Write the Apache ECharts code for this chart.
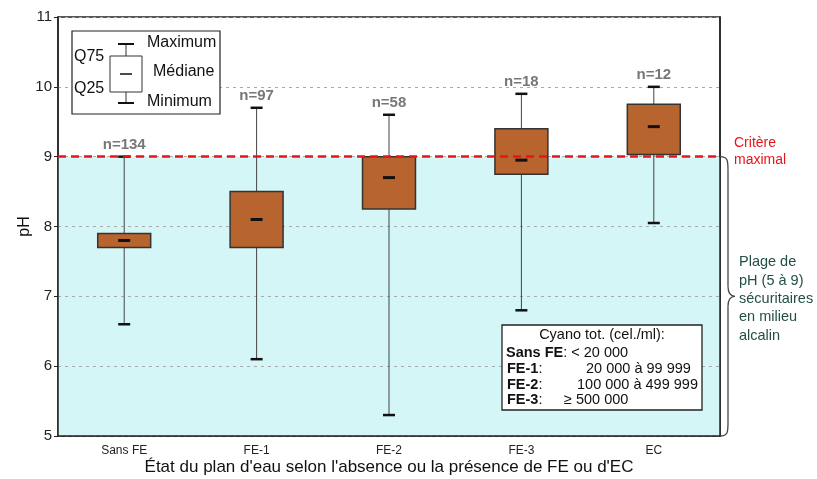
<!DOCTYPE html>
<html><head><meta charset="utf-8">
<script src="https://cdn.jsdelivr.net/npm/echarts@6/dist/echarts.min.js"></script>
<style>html,body{margin:0;padding:0;background:#fff}#c{width:817px;height:479px}</style>
</head><body><div id="c"></div>
<script>
const categories = ['Sans FE', 'FE-1', 'FE-2', 'FE-3', 'EC'];
const minVals    = [6.6, 6.1, 5.3, 6.8, 8.05];
const q25Vals    = [7.7, 7.7, 8.25, 8.75, 9.03];
const medianVals = [7.8, 8.1, 8.7, 8.95, 9.43];
const q75Vals    = [7.9, 8.5, 9.0, 9.4, 9.75];
const maxVals    = [9.0, 9.7, 9.6, 9.9, 10.0];
const nLabels    = ['n=134', 'n=97', 'n=58', 'n=18', 'n=12'];
const criterionMax = 9;
const safeRange = [5, 9];
const yMin = 5, yMax = 11, yStep = 1;

const FONT = '"Liberation Sans", Arial, sans-serif';
const rows = categories.map((c, i) => [i, minVals[i], q25Vals[i], medianVals[i], q75Vals[i], maxVals[i], nLabels[i]]);

const chart = echarts.init(document.getElementById('c'), null, {renderer: 'canvas'});

function renderBox(params, api) {
  const x = api.value(0);
  const pMin = api.coord([x, api.value(1)]);
  const pQ1 = api.coord([x, api.value(2)]);
  const pMed = api.coord([x, api.value(3)]);
  const pQ3 = api.coord([x, api.value(4)]);
  const pMax = api.coord([x, api.value(5)]);
  const bw = api.size([1, 0])[0] * 0.4;
  const cx = pMin[0];
  const cap = 6;
  return {
    type: 'group',
    children: [
      {type: 'line', shape: {x1: cx, y1: pMax[1], x2: cx, y2: pMin[1]}, style: {stroke: '#444', lineWidth: 1}},
      {type: 'line', shape: {x1: cx - cap, y1: pMax[1], x2: cx + cap, y2: pMax[1]}, style: {stroke: '#111', lineWidth: 2.5}},
      {type: 'line', shape: {x1: cx - cap, y1: pMin[1], x2: cx + cap, y2: pMin[1]}, style: {stroke: '#111', lineWidth: 2.5}},
      {type: 'rect', shape: {x: cx - bw / 2, y: pQ3[1], width: bw, height: pQ1[1] - pQ3[1]}, style: {fill: '#B8642E', stroke: '#333', lineWidth: 1.5}},
      {type: 'line', shape: {x1: cx - 6, y1: pMed[1], x2: cx + 6, y2: pMed[1]}, style: {stroke: '#111', lineWidth: 3}},
      {type: 'text', style: {text: api.value(6), x: cx, y: pMax[1] - 4, align: 'center', verticalAlign: 'bottom', font: 'bold 15px ' + FONT, fill: '#777'}}
    ]
  };
}

chart.setOption({
  animation: false,
  grid: {left: 58, right: 97, top: 17, bottom: 43, outerBoundsMode: 'none', containLabel: false, show: true, borderColor: '#222', borderWidth: 1.5, backgroundColor: '#fff'},
  xAxis: {
    type: 'category', data: categories, boundaryGap: true,
    axisLine: {lineStyle: {color: '#222', width: 1.5}},
    axisTick: {inside: true, length: 5, lineStyle: {color: '#222', width: 1.5}},
    axisLabel: {fontFamily: '"Liberation Sans Narrow", ' + FONT, fontSize: 12, color: '#222', margin: 9},
    name: "État du plan d'eau selon l'absence ou la présence de FE ou d'EC",
    nameLocation: 'middle', nameGap: 23, nameMoveOverlap: false,
    nameTextStyle: {fontFamily: FONT, fontSize: 17, color: '#111'},
    z: 5
  },
  yAxis: [{
    type: 'value', min: yMin, max: yMax, interval: yStep,
    axisLine: {show: true, lineStyle: {color: '#222', width: 1.5}},
    axisTick: {show: true, length: 4, lineStyle: {color: '#222'}},
    axisLabel: {fontFamily: FONT, fontSize: 15, color: '#222', margin: 6},
    splitLine: {show: true, lineStyle: {color: '#aaa', type: [3, 4], width: 1}},
    name: 'pH', nameLocation: 'middle', nameGap: 25, nameMoveOverlap: false,
    nameTextStyle: {fontFamily: FONT, fontSize: 16, color: '#111'},
    z: 2
  }, {
    type: 'value', min: yMin, max: yMax, interval: yStep, position: 'right',
    axisLine: {show: true, lineStyle: {color: '#222', width: 1.5}},
    axisTick: {show: false}, axisLabel: {show: false}, splitLine: {show: false}, z: 5
  }],
  series: [{
    type: 'scatter', data: [], z: 1, silent: true,
    markArea: {silent: true, itemStyle: {color: '#D5F6F7'}, data: [[{yAxis: safeRange[0]}, {yAxis: safeRange[1]}]]}
  }, {
    type: 'custom', z: 3, data: rows, renderItem: renderBox,
    encode: {x: 0, y: [1, 2, 3, 4, 5]},
    markLine: {silent: true, symbol: 'none', label: {show: false},
      lineStyle: {color: '#E8141C', type: [8, 5], width: 2.5},
      data: [{yAxis: criterionMax}]}
  }]
});

const rect = chart.getModel().getComponent('grid').coordinateSystem.getRect();
const xr = rect.x + rect.width;
const yTop = chart.convertToPixel({yAxisIndex: 0}, safeRange[1]);
const yBot = chart.convertToPixel({yAxisIndex: 0}, safeRange[0]);
const yMid = (yTop + yBot) / 2;
const bx = xr + 8;
const bs = {stroke: '#444', lineWidth: 1.3, fill: null};
const braceEls = [
  {type: 'bezierCurve', shape: {x1: xr, y1: yTop, cpx1: bx, cpy1: yTop, cpx2: bx, cpy2: yTop + 4, x2: bx, y2: yTop + 14}, style: bs, z: 20},
  {type: 'line', shape: {x1: bx, y1: yTop + 14, x2: bx, y2: yMid - 10}, style: bs, z: 20},
  {type: 'bezierCurve', shape: {x1: bx, y1: yMid - 10, cpx1: bx, cpy1: yMid - 3, cpx2: bx + 2, cpy2: yMid, x2: bx + 7, y2: yMid}, style: bs, z: 20},
  {type: 'bezierCurve', shape: {x1: bx + 7, y1: yMid, cpx1: bx + 2, cpy1: yMid, cpx2: bx, cpy2: yMid + 3, x2: bx, y2: yMid + 10}, style: bs, z: 20},
  {type: 'line', shape: {x1: bx, y1: yMid + 10, x2: bx, y2: yBot - 14}, style: bs, z: 20},
  {type: 'bezierCurve', shape: {x1: bx, y1: yBot - 14, cpx1: bx, cpy1: yBot - 4, cpx2: bx, cpy2: yBot, x2: xr, y2: yBot}, style: bs, z: 20}
];

const T = (text, x, y, opts) => ({type: 'text', z: 20, style: Object.assign({text, x, y, font: '14px ' + FONT, fill: '#111', verticalAlign: 'middle'}, opts || {})});
const F16 = '16px ' + FONT, F14 = '14.5px ' + FONT;
const rich = {b: {fontFamily: FONT, fontSize: 14.5, fontWeight: 'bold', fill: '#111'}};
const R = (text, x, y) => ({type: 'text', z: 20, style: {text, x, y, fontFamily: FONT, fontSize: 14.5, fill: '#111', verticalAlign: 'middle', rich}});

chart.setOption({
  graphic: braceEls.concat([
    T('Critère', xr + 14, yTop - 14, {fill: '#E8141C'}),
    T('maximal', xr + 14, yTop + 3, {fill: '#E8141C'}),
    T('Plage de', xr + 19, 262, {fill: '#234f47', font: F14}),
    T('pH (5 à 9)', xr + 19, 281, {fill: '#234f47', font: F14}),
    T('sécuritaires', xr + 19, 299, {fill: '#234f47', font: F14}),
    T('en milieu', xr + 19, 317, {fill: '#234f47', font: F14}),
    T('alcalin', xr + 19, 336, {fill: '#234f47', font: F14}),
    {type: 'rect', z: 20, shape: {x: 72, y: 31, width: 148, height: 83}, style: {fill: '#fff', stroke: '#222', lineWidth: 1.2}},
    {type: 'line', z: 21, shape: {x1: 126, y1: 44, x2: 126, y2: 103}, style: {stroke: '#333', lineWidth: 1}},
    {type: 'line', z: 21, shape: {x1: 118, y1: 44, x2: 134, y2: 44}, style: {stroke: '#111', lineWidth: 2}},
    {type: 'line', z: 21, shape: {x1: 118, y1: 103, x2: 134, y2: 103}, style: {stroke: '#111', lineWidth: 2}},
    {type: 'rect', z: 22, shape: {x: 110, y: 56, width: 32, height: 36}, style: {fill: '#fff', stroke: '#333', lineWidth: 1}},
    {type: 'line', z: 23, shape: {x1: 120, y1: 74, x2: 132, y2: 74}, style: {stroke: '#111', lineWidth: 1.5}},
    T('Maximum', 147, 43, {font: F16}),
    T('Q75', 74, 57, {font: F16}),
    T('Médiane', 153, 72, {font: F16}),
    T('Q25', 74, 89, {font: F16}),
    T('Minimum', 147, 102, {font: F16}),
    {type: 'rect', z: 20, shape: {x: 502, y: 325, width: 200, height: 85}, style: {fill: '#fff', stroke: '#222', lineWidth: 1.3}},
    T('Cyano tot. (cel./ml):', 602, 335, {align: 'center', font: F14}),
    R('{b|Sans FE}: < 20 000', 506, 353),
    R('{b|FE-1}:', 507, 369),
    T('20 000 à 99 999', 586, 369, {font: F14}),
    R('{b|FE-2}:', 507, 385),
    T('100 000 à 499 999', 577, 385, {font: F14}),
    R('{b|FE-3}:', 507, 400),
    T('≥ 500 000', 564, 400, {font: F14})
  ])
});
</script></body></html>
